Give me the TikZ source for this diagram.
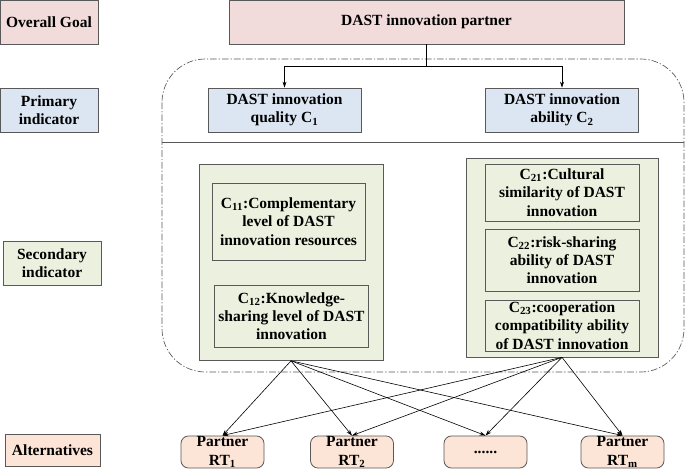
\documentclass[tikz,border=0pt]{standalone}
\usepackage{fontspec}
\setmainfont{Liberation Serif}
\usepackage{xcolor}
\usetikzlibrary{arrows.meta,positioning}
\definecolor{goalpink}{HTML}{F2DCDB}
\definecolor{primblue}{HTML}{DCE6F2}
\definecolor{secgreen}{HTML}{EBF1DE}
\definecolor{altpeach}{HTML}{FCE4D6}
\definecolor{edgegray}{HTML}{595959}

\begin{document}
\begin{tikzpicture}[x=0.265mm,y=-0.265mm,>={Stealth[length=4.5pt,width=3pt]},
  box/.style={draw=edgegray,line width=0.6pt,align=center,inner sep=0pt,
    font=\bfseries\fontsize{11.7pt}{13.8pt}\selectfont},
  goalbox/.style={box,fill=goalpink,minimum height=11.7mm},
  primbox/.style={box,fill=primblue,minimum height=11.7mm},
  secbox/.style={box,fill=secgreen},
  altbox/.style={box,fill=altpeach,rounded corners=2mm,minimum width=22mm,minimum height=8.5mm},
  link/.style={->,line width=0.45pt}]
  \useasboundingbox (0,0) rectangle (685,469);
  % level labels
  \node[goalbox,minimum width=26mm] (lgoal) at (49,22) {Overall Goal};
  \node[primbox,minimum width=26mm] (lprim) at (49,110) {Primary\\indicator};
  \node[secbox,minimum width=26mm,minimum height=11.7mm] (lsec) at (52,263) {Secondary\\indicator};
  \node[altbox,rounded corners=0pt,minimum width=25.2mm] (lalt) at (52.5,450) {Alternatives};
  % hierarchy
  \node[goalbox,minimum width=104.7mm] (goal) at (426.5,22) {DAST innovation partner};
  \draw[edgegray,line width=0.5pt,dash pattern=on 5pt off 1.5pt on 1pt off 1.5pt,rounded corners=11.5mm]
    (162,59) rectangle (684,372);
  \draw[edgegray,line width=0.6pt] (162,142.5) -- (684,142.5);
  \node[primbox,minimum width=40.5mm] (c1) at (284.5,110) {DAST innovation\\quality C\textsubscript{1}};
  \node[primbox,minimum width=40.5mm] (c2) at (562,110) {DAST innovation\\ability C\textsubscript{2}};
  \coordinate (split) at (426.5,66.5);
  \draw[line width=0.45pt] (goal) -- (split);
  \draw[link] (split) -| (c1);
  \draw[link] (split) -| (c2);
  \node[secbox,minimum width=48.8mm,minimum height=51.9mm] (gleft) at (291,262.5) {};
  \node[secbox,minimum width=40.5mm,minimum height=20.4mm] (c11) at (288.5,221.5)
    {C\textsubscript{11}:Complementary\\level of DAST\\innovation resources};
  \node[secbox,minimum width=40.8mm,minimum height=16.4mm] (c12) at (291.5,316)
    {C\textsubscript{12}:Knowledge-\\sharing level of DAST\\innovation};
  \node[secbox,minimum width=50.9mm,minimum height=52.7mm] (gright) at (562,257.5) {};
  \node[secbox,minimum width=40.8mm,minimum height=15.1mm] (c21) at (562,192.5)
    {C\textsubscript{21}:Cultural\\similarity of DAST\\innovation};
  \node[secbox,minimum width=40.8mm,minimum height=16.4mm] (c22) at (562,260)
    {C\textsubscript{22}:risk-sharing\\ability of DAST\\innovation};
  \node[secbox,minimum width=40.8mm,minimum height=13.5mm] (c23) at (562,325.5)
    {C\textsubscript{23}:cooperation\\compatibility ability\\of DAST innovation};
  % alternatives
  \node[altbox] (p1) at (222.5,452) {Partner\\RT\textsubscript{1}};
  \node[altbox] (p2) at (352,452) {Partner\\RT\textsubscript{2}};
  \node[altbox] (p3) at (485.5,452) {......};
  \node[altbox] (pm) at (622.5,452) {Partner\\RT\textsubscript{m}};
  \foreach \p in {p1,p2,p3,pm}{
    \draw[link] (gleft.south) -- (\p.north);
    \draw[link] (gright.south) -- (\p.north);
  }
\end{tikzpicture}
\end{document}
